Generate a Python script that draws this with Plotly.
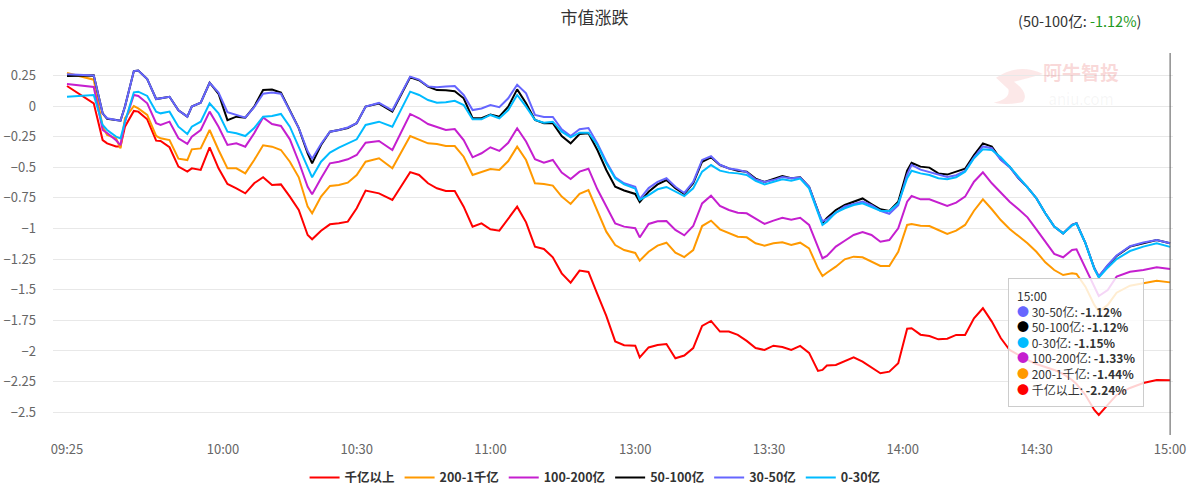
import plotly.graph_objects as go

# ---------------- data ----------------
chart_title = "市值涨跌"

times = ["09:25", "09:31", "09:33", "09:34", "09:36", "09:37", "09:38", "09:40", "09:41", "09:43",
         "09:45", "09:46", "09:48", "09:50", "09:52", "09:53", "09:55", "09:57", "09:59", "10:01",
         "10:03", "10:05", "10:07", "10:09", "10:11", "10:13", "10:15", "10:17", "10:19", "10:20",
         "10:22", "10:24", "10:26", "10:28", "10:30", "10:32", "10:35", "10:38", "10:42", "10:44",
         "10:46", "10:48", "10:50", "10:52", "10:54", "10:56", "10:58", "11:00", "11:02", "11:04",
         "11:06", "11:08", "11:10", "11:12", "11:14", "11:16", "11:18", "11:20", "11:22", "11:24",
         "11:26", "11:28", "11:30",
         "13:00", "13:01", "13:03", "13:05", "13:07", "13:09", "13:11", "13:13", "13:15", "13:17",
         "13:19", "13:21", "13:23", "13:25", "13:27", "13:29", "13:31", "13:33", "13:35", "13:37",
         "13:39", "13:41", "13:42", "13:43", "13:45", "13:47", "13:49", "13:51", "13:53", "13:55",
         "13:57", "13:59", "14:01", "14:02", "14:04", "14:06", "14:08", "14:10", "14:12", "14:14",
         "14:16", "14:18", "14:20", "14:22", "14:24", "14:26", "14:28", "14:30", "14:32", "14:34",
         "14:36", "14:38", "14:39", "14:41", "14:43", "14:44", "14:46", "14:48", "14:51", "14:54",
         "14:57", "15:00"]

tick_labels = ["09:25", "10:00", "10:30", "11:00", "13:00", "13:30", "14:00", "14:30", "15:00"]

# 千亿以上
cap_1000 = [0.163, 0.022, -0.278, -0.305, -0.33, -0.33, -0.169, -0.04, -0.046, -0.109,
            -0.283, -0.286, -0.337, -0.495, -0.536, -0.509, -0.522, -0.337, -0.509, -0.637,
            -0.672, -0.713, -0.631, -0.582, -0.645, -0.64, -0.74, -0.849, -1.053, -1.088,
            -1.018, -0.966, -0.958, -0.944, -0.835, -0.691, -0.713, -0.767, -0.54, -0.563,
            -0.631, -0.672, -0.694, -0.694, -0.822, -0.985, -0.958, -1.007, -1.018, -0.92,
            -0.822, -0.95, -1.148, -1.167, -1.235, -1.366, -1.442, -1.344, -1.355, -1.535,
            -1.714, -1.922, -1.953,
            -1.957, -2.053, -1.971, -1.951, -1.943, -2.06, -2.037, -1.976, -1.796, -1.755,
            -1.842, -1.842, -1.869, -1.918, -1.976, -1.992, -1.957, -1.967, -1.992, -1.959,
            -2.016, -2.163, -2.155, -2.118, -2.114, -2.082, -2.052, -2.087, -2.133, -2.182,
            -2.169, -2.10, -1.818, -1.815, -1.867, -1.878, -1.905, -1.90, -1.869, -1.869,
            -1.733, -1.651, -1.76, -1.894, -1.992, -2.033, -2.073, -2.106, -2.131, -2.155,
            -2.188, -2.237, -2.27, -2.359, -2.482, -2.522, -2.44, -2.359, -2.302, -2.261,
            -2.237, -2.24]

# 200-1千亿
cap_200_1000 = [0.27, 0.215, -0.169, -0.237, -0.264, -0.345, -0.10, 0.0, -0.019, -0.073,
                -0.245, -0.264, -0.278, -0.43, -0.441, -0.354, -0.346, -0.196, -0.359, -0.509,
                -0.509, -0.55, -0.441, -0.321, -0.332, -0.359, -0.455, -0.582, -0.822, -0.876,
                -0.74, -0.653, -0.645, -0.626, -0.563, -0.455, -0.427, -0.509, -0.245, -0.278,
                -0.305, -0.31, -0.327, -0.327, -0.414, -0.563, -0.536, -0.514, -0.522, -0.449,
                -0.332, -0.441, -0.631, -0.637, -0.65, -0.74, -0.80, -0.718, -0.686, -0.863,
                -1.026, -1.135, -1.176,
                -1.20, -1.263, -1.19, -1.14, -1.116, -1.197, -1.233, -1.176, -0.98, -0.936,
                -1.007, -1.04, -1.067, -1.072, -1.121, -1.14, -1.121, -1.113, -1.135, -1.116,
                -1.162, -1.325, -1.388, -1.361, -1.312, -1.252, -1.23, -1.235, -1.268, -1.306,
                -1.306, -1.19, -0.971, -0.963, -0.977, -0.98, -1.012, -1.045, -1.018, -0.971,
                -0.855, -0.762, -0.843, -0.931, -1.004, -1.061, -1.121, -1.19, -1.276, -1.339,
                -1.38, -1.366, -1.371, -1.475, -1.624, -1.679, -1.624, -1.524, -1.467, -1.447,
                -1.426, -1.44]

# 100-200亿
cap_100_200 = [0.18, 0.155, -0.196, -0.22, -0.28, -0.32, -0.13, 0.09, 0.082, 0.022,
               -0.141, -0.155, -0.128, -0.264, -0.31, -0.25, -0.196, -0.046, -0.169, -0.318,
               -0.305, -0.332, -0.223, -0.093, -0.147, -0.163, -0.272, -0.455, -0.659, -0.721,
               -0.59, -0.468, -0.455, -0.435, -0.40, -0.30, -0.286, -0.359, -0.065, -0.10,
               -0.147, -0.174, -0.196, -0.188, -0.278, -0.419, -0.386, -0.337, -0.367, -0.30,
               -0.182, -0.29, -0.435, -0.463, -0.441, -0.544, -0.596, -0.536, -0.512, -0.68,
               -0.816, -0.958, -0.985,
               -0.998, -1.073, -0.963, -0.941, -0.939, -1.012, -1.056, -0.98, -0.795, -0.732,
               -0.816, -0.849, -0.871, -0.876, -0.92, -0.963, -0.936, -0.912, -0.928, -0.912,
               -0.971, -1.162, -1.243, -1.224, -1.148, -1.10, -1.053, -1.029, -1.053, -1.108,
               -1.094, -0.998, -0.781, -0.735, -0.762, -0.762, -0.789, -0.816, -0.789, -0.74,
               -0.618, -0.541, -0.631, -0.705, -0.781, -0.843, -0.909, -1.007, -1.108, -1.208,
               -1.235, -1.176, -1.17, -1.317, -1.469, -1.551, -1.502, -1.393, -1.353, -1.339,
               -1.317, -1.33]

# 50-100亿
cap_50_100 = [0.245, 0.25, -0.06, -0.105, -0.115, -0.12, -0.005, 0.285, 0.29, 0.22,
              0.057, 0.065, 0.075, -0.035, -0.087, -0.005, 0.027, 0.19, 0.10, -0.115,
              -0.087, -0.095, -0.005, 0.13, 0.135, 0.11, -0.033, -0.18, -0.386, -0.468,
              -0.318, -0.21, -0.196, -0.18, -0.14, -0.005, 0.02, -0.045, 0.234, 0.21,
              0.158, 0.13, 0.128, 0.12, 0.063, -0.10, -0.10, -0.07, -0.087, -0.005,
              0.136, 0.022, -0.114, -0.14, -0.14, -0.245, -0.305, -0.229, -0.223, -0.359,
              -0.522, -0.659, -0.69,
              -0.718, -0.784, -0.70, -0.64, -0.604, -0.672, -0.718, -0.631, -0.455, -0.419,
              -0.482, -0.509, -0.528, -0.536, -0.593, -0.62, -0.598, -0.571, -0.59, -0.582,
              -0.659, -0.863, -0.955, -0.914, -0.849, -0.808, -0.78, -0.755, -0.80, -0.843,
              -0.857, -0.781, -0.528, -0.463, -0.495, -0.503, -0.55, -0.56, -0.536, -0.512,
              -0.40, -0.305, -0.332, -0.435, -0.495, -0.59, -0.664, -0.753, -0.876, -0.985,
              -1.04, -0.971, -0.958, -1.12, -1.325, -1.393, -1.304, -1.224, -1.148, -1.12,
              -1.094, -1.12]

# 30-50亿
cap_30_50 = [0.26, 0.25, -0.06, -0.10, -0.115, -0.12, -0.005, 0.285, 0.29, 0.22,
             0.057, 0.065, 0.075, -0.035, -0.087, -0.005, 0.027, 0.19, 0.11, -0.05,
             -0.07, -0.095, -0.01, 0.10, 0.11, 0.10, -0.04, -0.18, -0.37, -0.43,
             -0.31, -0.21, -0.196, -0.175, -0.14, -0.005, 0.025, -0.035, 0.24, 0.215,
             0.16, 0.153, 0.16, 0.163, 0.09, -0.033, -0.02, 0.008, -0.01, 0.063,
             0.174, 0.104, -0.073, -0.09, -0.09, -0.19, -0.245, -0.19, -0.18, -0.305,
             -0.455, -0.582, -0.631,
             -0.66, -0.76, -0.67, -0.62, -0.59, -0.66, -0.71, -0.62, -0.44, -0.41,
             -0.48, -0.51, -0.52, -0.54, -0.60, -0.62, -0.605, -0.58, -0.59, -0.585,
             -0.66, -0.86, -0.94, -0.925, -0.87, -0.82, -0.80, -0.78, -0.81, -0.855,
             -0.88, -0.81, -0.56, -0.48, -0.52, -0.54, -0.565, -0.58, -0.565, -0.53,
             -0.42, -0.33, -0.345, -0.44, -0.50, -0.59, -0.664, -0.753, -0.876, -0.985,
             -1.04, -0.971, -0.958, -1.12, -1.325, -1.39, -1.30, -1.22, -1.145, -1.115,
             -1.095, -1.12]

# 0-30亿
cap_0_30 = [0.075, 0.09, -0.155, -0.196, -0.25, -0.265, -0.128, 0.112, 0.117, 0.082,
            -0.046, -0.06, -0.046, -0.169, -0.229, -0.169, -0.128, 0.022, -0.06, -0.21,
            -0.223, -0.245, -0.18, -0.087, -0.082, -0.065, -0.169, -0.332, -0.495, -0.582,
            -0.455, -0.381, -0.34, -0.305, -0.272, -0.155, -0.128, -0.169, 0.117, 0.09,
            0.049, 0.027, 0.03, 0.043, 0.008, -0.109, -0.109, -0.073, -0.10, -0.033,
            0.09, -0.005, -0.114, -0.136, -0.128, -0.21, -0.256, -0.218, -0.218, -0.318,
            -0.468, -0.59, -0.64,
            -0.675, -0.767, -0.727, -0.68, -0.661, -0.70, -0.735, -0.672, -0.536, -0.482,
            -0.528, -0.544, -0.55, -0.563, -0.612, -0.64, -0.618, -0.598, -0.61, -0.593,
            -0.672, -0.863, -0.971, -0.944, -0.87, -0.835, -0.808, -0.795, -0.827, -0.855,
            -0.857, -0.795, -0.59, -0.528, -0.55, -0.563, -0.59, -0.598, -0.582, -0.536,
            -0.427, -0.354, -0.359, -0.419, -0.495, -0.577, -0.664, -0.753, -0.876, -0.985,
            -1.04, -0.975, -0.96, -1.12, -1.33, -1.40, -1.32, -1.25, -1.184, -1.148,
            -1.12, -1.15]

series_names = ["千亿以上", "200-1千亿", "100-200亿", "50-100亿", "30-50亿", "0-30亿"]
series_values = [cap_1000, cap_200_1000, cap_100_200, cap_50_100, cap_30_50, cap_0_30]
series_colors = ["#ff0000", "#ff9900", "#c51fcf", "#000000", "#6666ff", "#00bbff"]
tooltip_order = ["30-50亿", "50-100亿", "0-30亿", "100-200亿", "200-1千亿", "千亿以上"]
headline_series = "50-100亿"


# ---------------- helpers ----------------
def axis_pos(t):
    h, m = (int(p) for p in t.split(":"))
    mins = h * 60 + m
    if mins <= 11 * 60 + 30:
        return mins - (9 * 60 + 25)
    return 127.5 + mins - 13 * 60


xs = [axis_pos(t) for t in times]

fig = go.Figure()
for name, vals, col in zip(series_names, series_values, series_colors):
    fig.add_trace(go.Scatter(
        x=xs, y=vals, mode="lines", name=name,
        line=dict(color=col, width=2), hoverinfo="skip"))

FONT = "Noto Sans CJK SC, Noto Sans, sans-serif"

# crosshair at the last time
fig.add_shape(type="line", xref="x", yref="paper",
              x0=axis_pos(times[-1]), x1=axis_pos(times[-1]), y0=0, y1=1,
              line=dict(color="#555555", width=1))

# watermark logo (decorative swirl)
fig.add_shape(type="path", xref="paper", yref="paper",
              path="M 0.842 0.935 Q 0.862 0.975 0.884 0.945 Q 0.872 0.935 0.858 0.925 "
                   "Q 0.872 0.895 0.866 0.872 Q 0.852 0.862 0.840 0.870 Q 0.855 0.880 0.853 0.905 Z",
              fillcolor="rgba(240,150,150,0.22)", line=dict(width=0), layer="below")

# headline (top right)
last = {n: v[-1] for n, v in zip(series_names, series_values)}
fig.add_annotation(
    xref="paper", yref="paper", x=0.9732, y=1.086, xanchor="right", yanchor="middle",
    showarrow=False, font=dict(family=FONT, size=14.5, color="#333333"),
    text=f"({headline_series}: <span style='color:#229a22'>{last[headline_series]:.2f}%</span>)")

# tooltip box
color_of = dict(zip(series_names, series_colors))
lines = [times[-1]]
for n in tooltip_order:
    lines.append(f"<span style='color:{color_of[n]}'>●</span> {n}: <b>{last[n]:.2f}%</b>")
fig.add_annotation(
    xref="paper", yref="paper", x=0.8527, y=0.411, xanchor="left", yanchor="top",
    showarrow=False, align="left", text="<br>".join(lines),
    font=dict(family=FONT, size=12, color="#333333"),
    bgcolor="rgba(255,255,255,0.82)", bordercolor="#cccccc", borderwidth=1, borderpad=8)

# watermark text
fig.add_annotation(xref="paper", yref="paper", x=0.918, y=0.921, xanchor="center", yanchor="middle",
                   showarrow=False,
                   text="<b>阿牛智投</b><br><span style='font-size:15px;color:rgba(160,160,160,0.35)'>aniu.com</span>",
                   font=dict(family=FONT, size=19, color="rgba(235,120,120,0.28)"))

fig.update_layout(
    width=1191, height=496,
    margin=dict(l=53, r=18, t=53, b=61, autoexpand=False),
    paper_bgcolor="white", plot_bgcolor="white",
    font=dict(family=FONT, color="#666666"),
    title=dict(text=chart_title, x=0.4992, xref="container", xanchor="center",
               y=0.964, yref="container", yanchor="middle",
               font=dict(family=FONT, size=17, color="#333333")),
    showlegend=True,
    legend=dict(orientation="h", x=0.484, xanchor="center",
                yref="container", y=0.0363, yanchor="middle",
                font=dict(family=FONT, size=12.5, color="#333333", weight="bold"),
                bgcolor="rgba(0,0,0,0)"),
    xaxis=dict(range=[-3.14, 248.15], tickvals=[axis_pos(t) for t in tick_labels],
               ticktext=tick_labels, showgrid=False, zeroline=False, showline=False,
               automargin=False,
               ticks="", tickfont=dict(size=13, color="#666666"), ticklabelstandoff=5),
    yaxis=dict(range=[-2.686, 0.4327], dtick=0.25, tick0=0, showgrid=True,
               gridcolor="#e8e8e8", gridwidth=1, zeroline=False, showline=False,
               automargin=False,
               ticks="", tickfont=dict(size=13, color="#666666"), ticklabelstandoff=16),
)

fig.write_html("out.html", config={"displayModeBar": False},
               post_script="document.body.style.margin='0';")
